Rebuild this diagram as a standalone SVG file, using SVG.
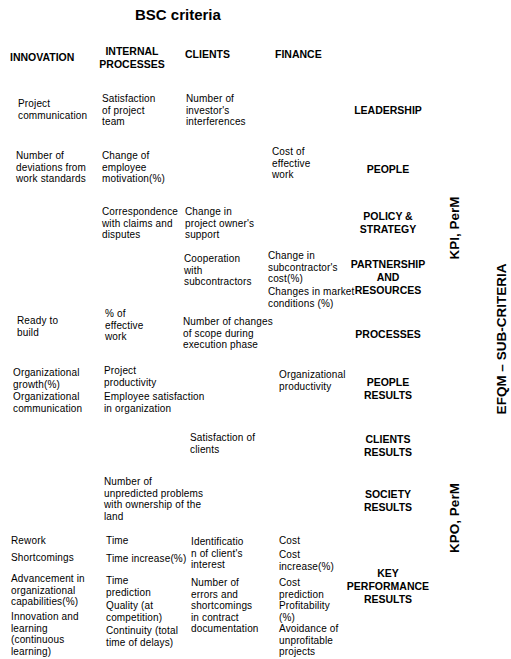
<svg xmlns="http://www.w3.org/2000/svg" width="511" height="659" viewBox="0 0 511 659">
  <style>
    text { fill: #000; font-family: "Liberation Sans", Arial, sans-serif; }
    .title { font-size: 15px; font-weight: bold; }
    .head { font-size: 10.5px; font-weight: bold; }
    .body { font-size: 10px; letter-spacing: 0.15px; }
    .crit { font-size: 10.5px; font-weight: bold; text-anchor: middle; }
    .side { font-size: 13.5px; font-weight: bold; text-anchor: middle; }
  </style>
  <rect width="511" height="659" fill="#fff"/>

  <!-- title and BSC column headings -->
  <g id="title"><text class="title" x="135" y="20">BSC criteria</text></g>
  <g id="h-innovation"><text class="head" x="10" y="61">INNOVATION</text></g>
  <g id="h-internal"><text class="head" x="132" y="55" text-anchor="middle">INTERNAL<tspan x="132" dy="13">PROCESSES</tspan></text></g>
  <g id="h-clients"><text class="head" x="185" y="58">CLIENTS</text></g>
  <g id="h-finance"><text class="head" x="275" y="58">FINANCE</text></g>

  <!-- EFQM sub-criteria -->
  <g id="c-leadership"><text class="crit" x="388" y="114">LEADERSHIP</text></g>
  <g id="c-people"><text class="crit" x="388" y="173">PEOPLE</text></g>
  <g id="c-policy"><text class="crit" x="388" y="220">POLICY &amp;<tspan x="388" dy="12.5">STRATEGY</tspan></text></g>
  <g id="c-partnership"><text class="crit" x="388" y="268">PARTNERSHIP<tspan x="388" dy="13">AND</tspan><tspan x="388" dy="13">RESOURCES</tspan></text></g>
  <g id="c-processes"><text class="crit" x="388" y="338">PROCESSES</text></g>
  <g id="c-people-results"><text class="crit" x="388" y="386">PEOPLE<tspan x="388" dy="13">RESULTS</tspan></text></g>
  <g id="c-clients-results"><text class="crit" x="388" y="443">CLIENTS<tspan x="388" dy="13">RESULTS</tspan></text></g>
  <g id="c-society-results"><text class="crit" x="388" y="498">SOCIETY<tspan x="388" dy="13">RESULTS</tspan></text></g>
  <g id="c-key-results"><text class="crit" x="388" y="577">KEY<tspan x="388" dy="13">PERFORMANCE</tspan><tspan x="388" dy="13">RESULTS</tspan></text></g>

  <!-- vertical side labels -->
  <g id="s-kpi"><text class="side" transform="translate(459 228) rotate(-90)">KPI, PerM</text></g>
  <g id="s-kpo"><text class="side" transform="translate(459 518) rotate(-90)">KPO, PerM</text></g>
  <g id="s-efqm"><text class="side" transform="translate(506 339) rotate(-90)">EFQM – SUB-CRITERIA</text></g>

  <!-- INNOVATION column -->
  <g id="i-1"><text class="body" x="18" y="107">Project<tspan x="18" dy="11.5">communication</tspan></text></g>
  <g id="i-2"><text class="body" x="16" y="159">Number of<tspan x="16" dy="11.5">deviations from</tspan><tspan x="16" dy="11.5">work standards</tspan></text></g>
  <g id="i-3"><text class="body" x="17" y="324">Ready to<tspan x="17" dy="11.5">build</tspan></text></g>
  <g id="i-4"><text class="body" x="13" y="376">Organizational<tspan x="13" dy="11.5">growth(%)</tspan></text></g>
  <g id="i-5"><text class="body" x="13" y="400">Organizational<tspan x="13" dy="11.5">communication</tspan></text></g>
  <g id="i-6"><text class="body" x="11" y="544">Rework</text></g>
  <g id="i-7"><text class="body" x="11" y="561">Shortcomings</text></g>
  <g id="i-8"><text class="body" x="11" y="582">Advancement in<tspan x="11" dy="11.5">organizational</tspan><tspan x="11" dy="11.5">capabilities(%)</tspan></text></g>
  <g id="i-9"><text class="body" x="11" y="620">Innovation and<tspan x="11" dy="11.5">learning</tspan><tspan x="11" dy="11.5">(continuous</tspan><tspan x="11" dy="11.5">learning)</tspan></text></g>

  <!-- INTERNAL PROCESSES column -->
  <g id="p-1"><text class="body" x="102" y="102">Satisfaction<tspan x="102" dy="11.5">of project</tspan><tspan x="102" dy="11.5">team</tspan></text></g>
  <g id="p-2"><text class="body" x="102" y="159">Change of<tspan x="102" dy="11.5">employee</tspan><tspan x="102" dy="11.5">motivation(%)</tspan></text></g>
  <g id="p-3"><text class="body" x="102" y="215">Correspondence<tspan x="102" dy="11.5">with claims and</tspan><tspan x="102" dy="11.5">disputes</tspan></text></g>
  <g id="p-4"><text class="body" x="105" y="317">% of<tspan x="105" dy="11.5">effective</tspan><tspan x="105" dy="11.5">work</tspan></text></g>
  <g id="p-5"><text class="body" x="104" y="374">Project<tspan x="104" dy="11.5">productivity</tspan></text></g>
  <g id="p-6"><text class="body" x="104" y="400">Employee satisfaction<tspan x="104" dy="11.5">in organization</tspan></text></g>
  <g id="p-7"><text class="body" x="104" y="485">Number of<tspan x="104" dy="11.5">unpredicted problems</tspan><tspan x="104" dy="11.5">with ownership of the</tspan><tspan x="104" dy="11.5">land</tspan></text></g>
  <g id="p-8"><text class="body" x="106" y="544">Time</text></g>
  <g id="p-9"><text class="body" x="106" y="562">Time increase(%)</text></g>
  <g id="p-10"><text class="body" x="106" y="584">Time<tspan x="106" dy="11.5">prediction</tspan></text></g>
  <g id="p-11"><text class="body" x="106" y="609">Quality (at<tspan x="106" dy="11.5">competition)</tspan></text></g>
  <g id="p-12"><text class="body" x="106" y="634">Continuity (total<tspan x="106" dy="11.5">time of delays)</tspan></text></g>

  <!-- CLIENTS column -->
  <g id="k-1"><text class="body" x="186" y="102">Number of<tspan x="186" dy="11.5">investor's</tspan><tspan x="186" dy="11.5">interferences</tspan></text></g>
  <g id="k-2"><text class="body" x="185" y="215">Change in<tspan x="185" dy="11.5">project owner's</tspan><tspan x="185" dy="11.5">support</tspan></text></g>
  <g id="k-3"><text class="body" x="184" y="262">Cooperation<tspan x="184" dy="11.5">with</tspan><tspan x="184" dy="11.5">subcontractors</tspan></text></g>
  <g id="k-4"><text class="body" x="183" y="325">Number of changes<tspan x="183" dy="11.5">of scope during</tspan><tspan x="183" dy="11.5">execution phase</tspan></text></g>
  <g id="k-5"><text class="body" x="190" y="441">Satisfaction of<tspan x="190" dy="11.5">clients</tspan></text></g>
  <g id="k-6"><text class="body" x="191" y="545">Identificatio<tspan x="191" dy="11.5">n of client's</tspan><tspan x="191" dy="11.5">interest</tspan></text></g>
  <g id="k-7"><text class="body" x="191" y="586">Number of<tspan x="191" dy="11.5">errors and</tspan><tspan x="191" dy="11.5">shortcomings</tspan><tspan x="191" dy="11.5">in contract</tspan><tspan x="191" dy="11.5">documentation</tspan></text></g>

  <!-- FINANCE column -->
  <g id="f-1"><text class="body" x="272" y="155">Cost of<tspan x="272" dy="11.5">effective</tspan><tspan x="272" dy="11.5">work</tspan></text></g>
  <g id="f-2"><text class="body" x="268" y="259">Change in<tspan x="268" dy="11.5">subcontractor's</tspan><tspan x="268" dy="11.5">cost(%)</tspan></text></g>
  <g id="f-3"><text class="body" x="268" y="295">Changes in market<tspan x="268" dy="11.5">conditions (%)</tspan></text></g>
  <g id="f-4"><text class="body" x="279" y="378">Organizational<tspan x="279" dy="11.5">productivity</tspan></text></g>
  <g id="f-5"><text class="body" x="279" y="544">Cost</text></g>
  <g id="f-6"><text class="body" x="279" y="558">Cost<tspan x="279" dy="11.5">increase(%)</tspan></text></g>
  <g id="f-7"><text class="body" x="279" y="586">Cost<tspan x="279" dy="11.5">prediction</tspan><tspan x="279" dy="11.5">Profitability</tspan><tspan x="279" dy="11.5">(%)</tspan></text></g>
  <g id="f-8"><text class="body" x="279" y="632">Avoidance of<tspan x="279" dy="11.5">unprofitable</tspan><tspan x="279" dy="11.5">projects</tspan></text></g>
</svg>
